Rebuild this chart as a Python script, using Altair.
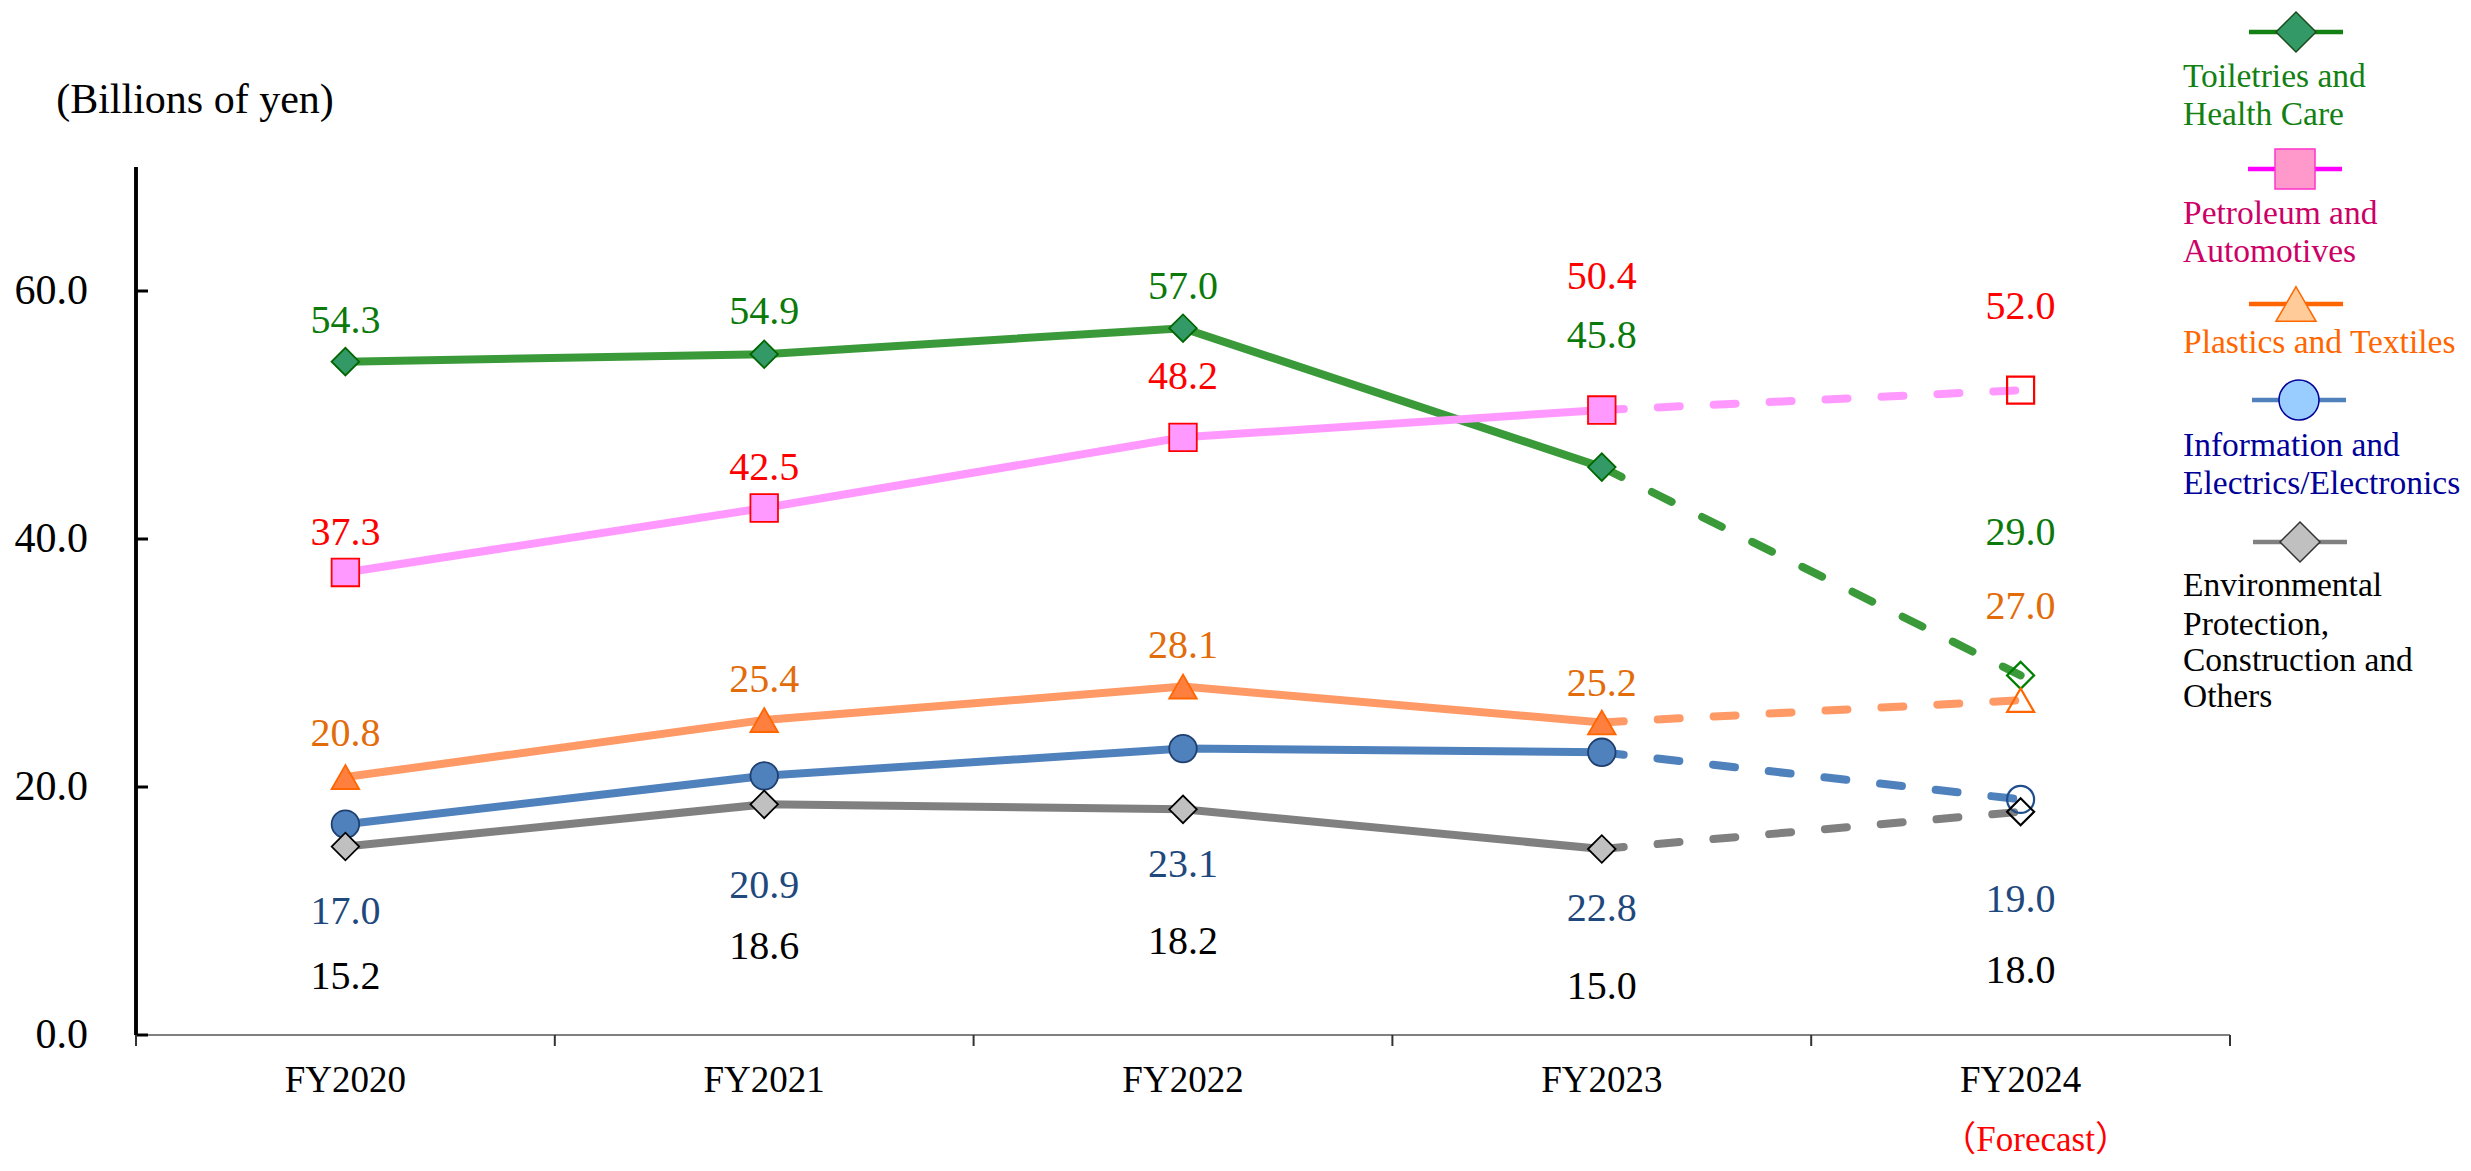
import altair as alt
import pandas as pd

# ---------------- data ----------------
YEARS = ["FY2020", "FY2021", "FY2022", "FY2023", "FY2024"]
SERIES = [
    "Toiletries and Health Care",
    "Petroleum and Automotives",
    "Plastics and Textiles",
    "Information and Electrics/Electronics",
    "Environmental Protection, Construction and Others",
]
TOILETRIES = [54.3, 54.9, 57.0, 45.8, 29.0]
PETROLEUM = [37.3, 42.5, 48.2, 50.4, 52.0]
PLASTICS = [20.8, 25.4, 28.1, 25.2, 27.0]
INFO = [17.0, 20.9, 23.1, 22.8, 19.0]
ENV = [15.2, 18.6, 18.2, 15.0, 18.0]
VALUES = [TOILETRIES, PETROLEUM, PLASTICS, INFO, ENV]

# where each value label sits, in axis units
LBL_TOILETRIES = [57.6, 58.3, 60.3, 56.4, 40.5]
LBL_PETROLEUM = [40.5, 45.7, 53.1, 61.1, 58.7]
LBL_PLASTICS = [24.3, 28.6, 31.4, 28.3, 34.5]
LBL_INFO = [9.9, 12.0, 13.7, 10.2, 10.9]
LBL_ENV = [4.7, 7.1, 7.5, 3.9, 5.2]
LABEL_POS = [LBL_TOILETRIES, LBL_PETROLEUM, LBL_PLASTICS, LBL_INFO, LBL_ENV]

Y_TICKS = [0, 20, 40, 60]
Y_TITLE = "(Billions of yen)"
FORECAST_YEAR = ["FY2024"]
FORECAST_TEXT = "（Forecast）"

LEGEND_TEXT = [
    ["Toiletries and", "Health Care"],
    ["Petroleum and", "Automotives"],
    ["Plastics and Textiles"],
    ["Information and", "Electrics/Electronics"],
    ["Environmental", "Protection,", "Construction and", "Others"],
]

# ---------------- styles ----------------
SERIF = "Liberation Serif, Times New Roman, serif"
CJK = "Liberation Serif, Noto Sans CJK JP, serif"
LINE_COLORS = ["#3a9a3a", "#ff99ff", "#ff9966", "#4f81bd", "#808080"]
MARKER_FILL = ["#339966", "#ff99ff", "#ff7f3f", "#4f81bd", "#c0c0c0"]
MARKER_STROKE = ["#006600", "#ff0000", "#ff6600", "#1f3f6f", "#000000"]
HOLLOW_STROKE = ["#008000", "#ff0000", "#ff6600", "#1f4e8c", "#000000"]
LABEL_COLORS = ["#0b7a0b", "#ff0000", "#e36c0a", "#1f497d", "#000000"]
SHAPES = ["diamond", "square", "triangle-up", "circle", "diamond"]

LEG_LINE_COLORS = ["#138013", "#ff00ff", "#ff6600", "#4f81bd", "#808080"]
LEG_FILL = ["#339966", "#ff99cc", "#ffcc99", "#99ccff", "#c0c0c0"]
LEG_STROKE = ["#1a4d1a", "#ff33cc", "#ff6600", "#000099", "#333333"]
LEG_TEXT_COLORS = ["#138013", "#cc0066", "#ff6600", "#000099", "#000000"]
LEG_SYMBOL_X = [2160, 2159, 2160, 2163, 2164]
LEG_SYMBOL_Y = [-135, 2, 137, 233, 375]
LEG_HALF_LINE = 47
LEG_TEXT_X = 2047
LEG_TEXT_Y = [[-80, -42], [57, 95], [186], [289, 327], [429, 468, 504, 540]]

W, H = 2094, 868

# ---------------- tables ----------------
rows = []
for si, s in enumerate(SERIES):
    for yi, yr in enumerate(YEARS):
        rows.append({"series": s, "idx": si, "year": yr,
                     "value": VALUES[si][yi], "label_y": LABEL_POS[si][yi]})
df = pd.DataFrame(rows)

ticks_df = pd.DataFrame({"v": Y_TICKS})
years_df = pd.DataFrame({"year": YEARS})
fc_df = pd.DataFrame({"year": FORECAST_YEAR, "t": [FORECAST_TEXT]})

leg_sym = pd.DataFrame({
    "sx": LEG_SYMBOL_X, "sy": LEG_SYMBOL_Y,
    "x1": [x - LEG_HALF_LINE for x in LEG_SYMBOL_X],
    "x2": [x + LEG_HALF_LINE for x in LEG_SYMBOL_X],
    "lc": LEG_LINE_COLORS, "fc": LEG_FILL, "sc": LEG_STROKE, "shape": SHAPES,
})
leg_txt_rows = []
for ei, lines in enumerate(LEGEND_TEXT):
    for li, t in enumerate(lines):
        leg_txt_rows.append({"t": t, "ty": LEG_TEXT_Y[ei][li], "c": LEG_TEXT_COLORS[ei]})
leg_txt = pd.DataFrame(leg_txt_rows)

# ---------------- scales / encodings ----------------
x_scale = alt.Scale(type="band", domain=YEARS, paddingInner=0, paddingOuter=0)
y_scale = alt.Scale(domain=[0, 70], nice=False, zero=True)

X_ = alt.X("year:N", scale=x_scale, axis=None)
Y_ = alt.Y("value:Q", scale=y_scale, axis=None)

line_color = alt.Color("series:N", scale=alt.Scale(domain=SERIES, range=LINE_COLORS), legend=None)

base = alt.Chart(df)

solid = base.transform_filter(alt.datum.year != "FY2024").mark_line(
    strokeWidth=8).encode(x=X_, y=Y_, color=line_color, detail="series:N")

dashed = base.transform_filter(
    alt.FieldOneOfPredicate(field="year", oneOf=["FY2023", "FY2024"])
).mark_line(strokeWidth=8, strokeDash=[22, 34], strokeCap="round").encode(
    x=X_, y=Y_, color=line_color, detail="series:N")

filled_pts = base.transform_filter(alt.datum.year != "FY2024").mark_point(
    filled=True, size=760, strokeWidth=1.8, opacity=1).encode(
    x=X_, y=Y_,
    fill=alt.Fill("series:N", scale=alt.Scale(domain=SERIES, range=MARKER_FILL), legend=None),
    stroke=alt.Stroke("series:N", scale=alt.Scale(domain=SERIES, range=MARKER_STROKE), legend=None),
    shape=alt.Shape("series:N", scale=alt.Scale(domain=SERIES, range=SHAPES), legend=None),
    order="idx:Q")

hollow_pts = base.transform_filter(alt.datum.year == "FY2024").mark_point(
    filled=False, size=729, strokeWidth=2.2, opacity=1).encode(
    x=X_, y=Y_,
    stroke=alt.Stroke("series:N", scale=alt.Scale(domain=SERIES, range=HOLLOW_STROKE), legend=None),
    shape=alt.Shape("series:N", scale=alt.Scale(domain=SERIES, range=SHAPES), legend=None),
    order="idx:Q")

labels = base.mark_text(font=SERIF, fontSize=40, baseline="middle", align="center").encode(
    x=X_, y=alt.Y("label_y:Q", scale=y_scale, axis=None),
    text=alt.Text("value:Q", format=".1f"),
    color=alt.Color("series:N", scale=alt.Scale(domain=SERIES, range=LABEL_COLORS), legend=None))

# ---------------- axes (drawn with rules / texts on the same scales) ----------------
y_domain = alt.Chart(ticks_df).mark_rule(color="black", strokeWidth=3).encode(
    x=alt.value(0), y=alt.value(0), y2=alt.value(H))
x_domain = alt.Chart(ticks_df).mark_rule(color="#808080", strokeWidth=2).encode(
    x=alt.value(0), x2=alt.value(W), y=alt.value(H))

y_ticks = alt.Chart(ticks_df).mark_rule(color="black", strokeWidth=3).encode(
    y=alt.Y("v:Q", scale=y_scale, axis=None), x=alt.value(0), x2=alt.value(12))
y_labels = alt.Chart(ticks_df).mark_text(font=SERIF, fontSize=42, color="black",
                                         align="right", baseline="middle").encode(
    y=alt.Y("v:Q", scale=y_scale, axis=None), x=alt.value(-48),
    text=alt.Text("v:Q", format=".1f"))
y_title = alt.Chart(fc_df).mark_text(font=SERIF, fontSize=42, color="black",
                                     align="center", baseline="alphabetic").encode(
    x=alt.value(59), y=alt.value(-54), text=alt.value(Y_TITLE))

x_ticks = alt.Chart(years_df).mark_rule(color="#333333", strokeWidth=2).encode(
    x=alt.X("year:N", scale=x_scale, axis=None, bandPosition=0),
    y=alt.value(H), y2=alt.value(H + 11))
x_tick_end = alt.Chart(fc_df).mark_rule(color="#333333", strokeWidth=2).encode(
    x=alt.value(W), y=alt.value(H), y2=alt.value(H + 11))
x_labels = alt.Chart(years_df).mark_text(font=SERIF, fontSize=37, color="black",
                                         align="center", baseline="alphabetic").encode(
    x=X_, y=alt.value(H + 57), text="year:N")

forecast = alt.Chart(fc_df).mark_text(font=CJK, fontSize=35, color="#ff0000",
                                      baseline="alphabetic", align="center", dx=15).encode(
    x=X_, y=alt.value(984), text="t:N")

# ---------------- legend ----------------
leg_lines = alt.Chart(leg_sym).mark_rule(strokeWidth=4.5).encode(
    x=alt.X("x1:Q", scale=None, axis=None), x2="x2:Q",
    y=alt.Y("sy:Q", scale=None, axis=None),
    color=alt.Color("lc:N", scale=None, legend=None))

leg_marks = alt.Chart(leg_sym).mark_point(filled=True, size=1600, strokeWidth=1.5, opacity=1).encode(
    x=alt.X("sx:Q", scale=None, axis=None), y=alt.Y("sy:Q", scale=None, axis=None),
    fill=alt.Fill("fc:N", scale=None, legend=None),
    stroke=alt.Stroke("sc:N", scale=None, legend=None),
    shape=alt.Shape("shape:N", scale=None, legend=None))

leg_text = alt.Chart(leg_txt).mark_text(font=SERIF, fontSize=33.5, align="left",
                                        baseline="alphabetic").encode(
    x=alt.value(LEG_TEXT_X), y=alt.Y("ty:Q", scale=None, axis=None),
    text="t:N", color=alt.Color("c:N", scale=None, legend=None))

chart = alt.layer(
    x_domain, y_domain, y_ticks, y_labels, y_title, x_ticks, x_tick_end, x_labels,
    solid, dashed, filled_pts, hollow_pts, labels, forecast,
    leg_lines, leg_marks, leg_text
).resolve_scale(
    color="independent", fill="independent", stroke="independent", shape="independent"
).properties(
    width=W, height=H,
    padding={"left": 128, "top": 159, "right": 233, "bottom": 128},
    autosize=alt.AutoSizeParams(type="none"),
    background="white",
).configure_view(stroke=None)

chart.save("out.html", embed_options={"renderer": "svg", "actions": False})
